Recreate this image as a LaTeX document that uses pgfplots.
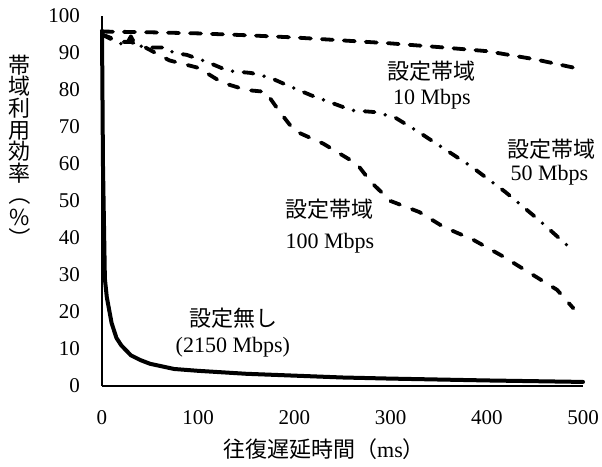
\documentclass[border=0pt]{standalone}
\usepackage{pgfplots}
\pgfplotsset{compat=1.18}
\usepackage{graphicx}
\usepackage{fontspec}
\setmainfont{Liberation Serif}
\newfontfamily\cjk{Noto Sans CJK JP}

\begin{document}
\begin{tikzpicture}
\path[use as bounding box] (-102pt,-80pt) rectangle (500pt,386pt);
\begin{axis}[
  at={(0pt,0pt)}, anchor=south west,
  scale only axis, width=481pt, height=370pt,
  xmin=0, xmax=500, ymin=0, ymax=100,
  axis x line*=bottom, axis y line*=left,
  axis line style={line width=2.5pt, -},
  xtick={0,100,...,500}, ytick={0,10,...,100},
  major tick length=0pt,
  tick label style={font=\fontsize{21}{24}\selectfont},
  /pgf/number format/assume math mode=true,
  yticklabel style={anchor=east, inner sep=0pt, xshift=-22pt},
  xticklabel style={anchor=north, inner sep=0pt, yshift=-24pt},
  clip=false,
  every axis plot/.append style={black, line cap=round, line join=round},
]
% 10 Mbps
\addplot[line width=3.8pt, dash pattern=on 11pt off 11pt] coordinates {
(0,95.8) (50,95.6) (100,95.3) (150,94.8) (200,94.2) (250,93.4) (300,92.6) (350,91.6) (400,90.5) (450,88.3) (500,85.5)
};
% 50 Mbps
\addplot[line width=3.8pt, dash pattern=on 10pt off 11pt on 0pt off 11pt] coordinates {
(0,95) (15,93) (25,92) (30,94.5) (35,92) (50,91.5) (65,91.5) (75,90) (88,89.5) (110,87.5) (131,85.2) (155,84.6) (175,83.3) (195,81) (218,78.5) (260,74.5) (285,74) (305,72.5) (330,68.5) (384,59.3) (419,52.5) (454,44.9) (490,36.5)
};
% 100 Mbps
\addplot[line width=3.8pt, dash pattern=on 10pt off 13pt] coordinates {
(0,95) (10,94) (20,93) (30,93) (45,91.5) (70,88) (100,86) (125,82) (150,80) (170,79.5) (185,74) (200,69) (230,65.5) (265,60) (280,55) (300,50) (330,47) (355,43) (386,39.5) (417,35) (445,30.5) (473,26) (490,21)
};
% no limit
\addplot[line width=4pt] coordinates {
(0,96) (1,60) (3,29) (5,24) (10,17) (15,13) (20,11) (30,8.3) (40,7) (50,6) (75,4.6) (100,4.1) (150,3.3) (200,2.8) (250,2.3) (300,2.0) (400,1.5) (500,1.1)
};
\node[font=\cjk\fontsize{22}{24}\selectfont] at (axis cs:343,85.1) {設定帯域};
\node[font=\fontsize{22}{24}\selectfont] at (axis cs:343,77.6) {10 Mbps};
\node[font=\cjk\fontsize{22}{24}\selectfont] at (axis cs:467,64.1) {設定帯域};
\node[font=\fontsize{22}{24}\selectfont] at (axis cs:465,57.0) {50 Mbps};
\node[font=\cjk\fontsize{22}{24}\selectfont] at (axis cs:236,47.8) {設定帯域};
\node[font=\fontsize{22}{24}\selectfont] at (axis cs:237,38.6) {100 Mbps};
\node[font=\cjk\fontsize{22}{24}\selectfont] at (axis cs:137,18.4) {設定無し};
\node[font=\fontsize{22}{24}\selectfont] at (axis cs:136,10.5) {(2150 Mbps)};
\end{axis}
\node[font=\fontsize{22}{24}\selectfont] at (222pt,-63pt) {{\cjk 往復遅延時間（}ms{\cjk ）}};
\node[align=center, inner sep=0pt, font=\cjk\fontsize{22}{21.7}\selectfont] at (-82pt,234pt) {帯\\域\\利\\用\\効\\率\\\rotatebox[origin=c]{-90}{（}\\\%\\\rotatebox[origin=c]{-90}{）}};
\end{tikzpicture}
\end{document}
